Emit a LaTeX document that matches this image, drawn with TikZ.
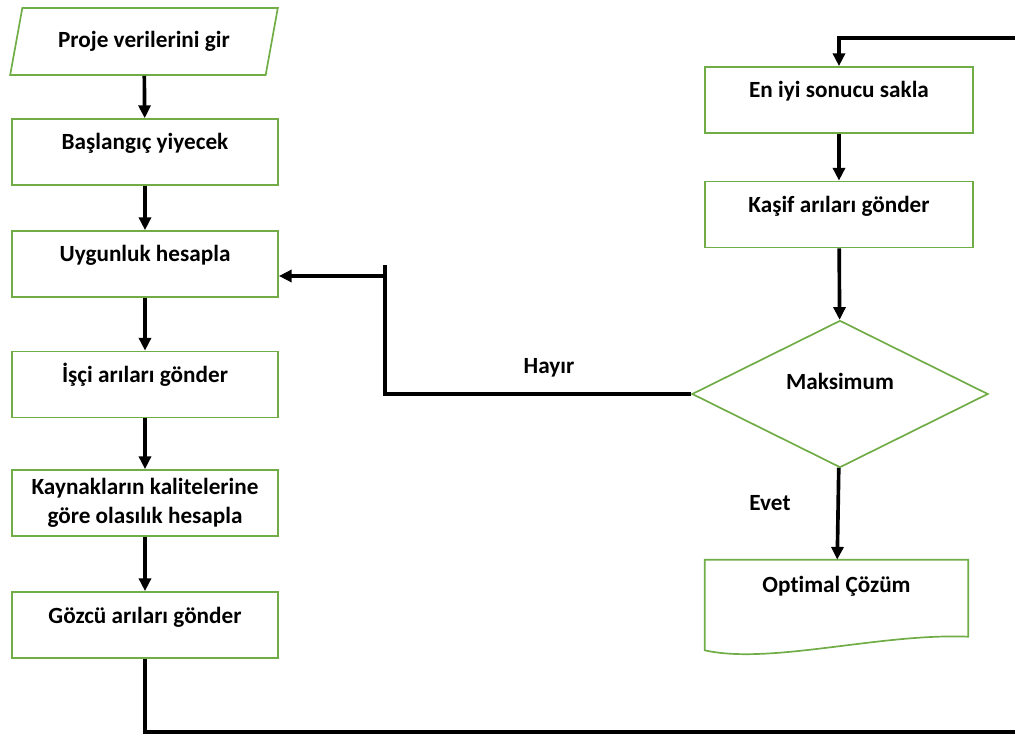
\documentclass[tikz,border=0pt]{standalone}
\usepackage{fontspec}
\setmainfont[Ligatures=NoCommon]{Carlito}
\usetikzlibrary{shapes.geometric,arrows.meta}

\definecolor{boxgreen}{RGB}{112,173,71}

\begin{document}
\begin{tikzpicture}[x=0.025cm, y=-0.025cm,
        every node/.style={font=\bfseries\fontsize{16.5}{20.5}\selectfont, align=center},
        box/.style={draw=boxgreen, line width=1.2pt, rectangle, minimum width=6.65cm, minimum height=1.65cm, text height=0.42cm, text depth=0.52cm},
        flow/.style={line width=2.6pt, -{Triangle[length=0.32cm, width=0.3cm]}},
        line/.style={line width=2.6pt}
    ]
        \clip (0,0) rectangle (1015,736);
        % left column
        \node[draw=boxgreen, line width=1.2pt, trapezium, trapezium left angle=73, trapezium right angle=107,
              trapezium stretches=true, minimum width=6.7cm, minimum height=1.675cm] (giris) at (144,41.5) {Proje verilerini gir};
        \node[box] (baslangic) at (145,152) {Başlangıç yiyecek};
        \node[box] (uygunluk)  at (145,264) {Uygunluk hesapla};
        \node[box] (isci)      at (145,384.5) {İşçi arıları gönder};
        \node[box, text height=, text depth=] (olasilik) at (145,503) {\raisebox{-0.12cm}{Kaynakların kalitelerine}\\ \raisebox{-0.12cm}{göre olasılık hesapla}};
        \node[box] (gozcu)     at (145,625) {Gözcü arıları gönder};
        % right column
        \node[box, minimum width=6.7cm] (eniyi) at (839,100) {En iyi sonucu sakla};
        \node[box, minimum width=6.7cm] (kasif) at (839,214.5) {Kaşif arıları gönder};
        \node[draw=boxgreen, line width=1.2pt, diamond, aspect=2, inner sep=1pt, minimum width=7.4cm, minimum height=3.675cm,
              text height=0.42cm, text depth=0.67cm] (maks) at (840,394) {Maksimum};
        \node[minimum width=6.575cm, minimum height=2.25cm, text height=0.42cm, text depth=1.07cm] (cozum) at (836.5,605) {Optimal Çözüm};
        \draw[draw=boxgreen, line width=1.2pt] (cozum.south west) -- (cozum.north west) -- (cozum.north east) -- ++(0,77)
            .. controls (880,633) and (770,665) .. (cozum.south west) -- cycle;

        \node (hayir) at (549,368) {Hayır};
        \node (evet)  at (770,503) {Evet};

        \coordinate (hy) at (385,276);
        \coordinate (rb) at (1040,732);
        \coordinate (rt) at (1040,38);

        \draw[flow] (giris) -- (baslangic);
        \draw[flow] (baslangic) -- (uygunluk);
        \draw[flow] (uygunluk) -- (isci);
        \draw[flow] (isci) -- (olasilik);
        \draw[flow] (olasilik) -- (gozcu);
        \draw[flow] (eniyi) -- (kasif);
        \draw[flow] (kasif) -- (maks);
        \draw[flow] (maks) -- (cozum);
        \draw[line] (maks.west) -| (385,265);
        \draw[flow] (hy) -- (uygunluk.east |- hy);
        \draw[flow] (gozcu.south) |- (rb) -- (rt) -| (eniyi.north);
    \end{tikzpicture}
\end{document}
